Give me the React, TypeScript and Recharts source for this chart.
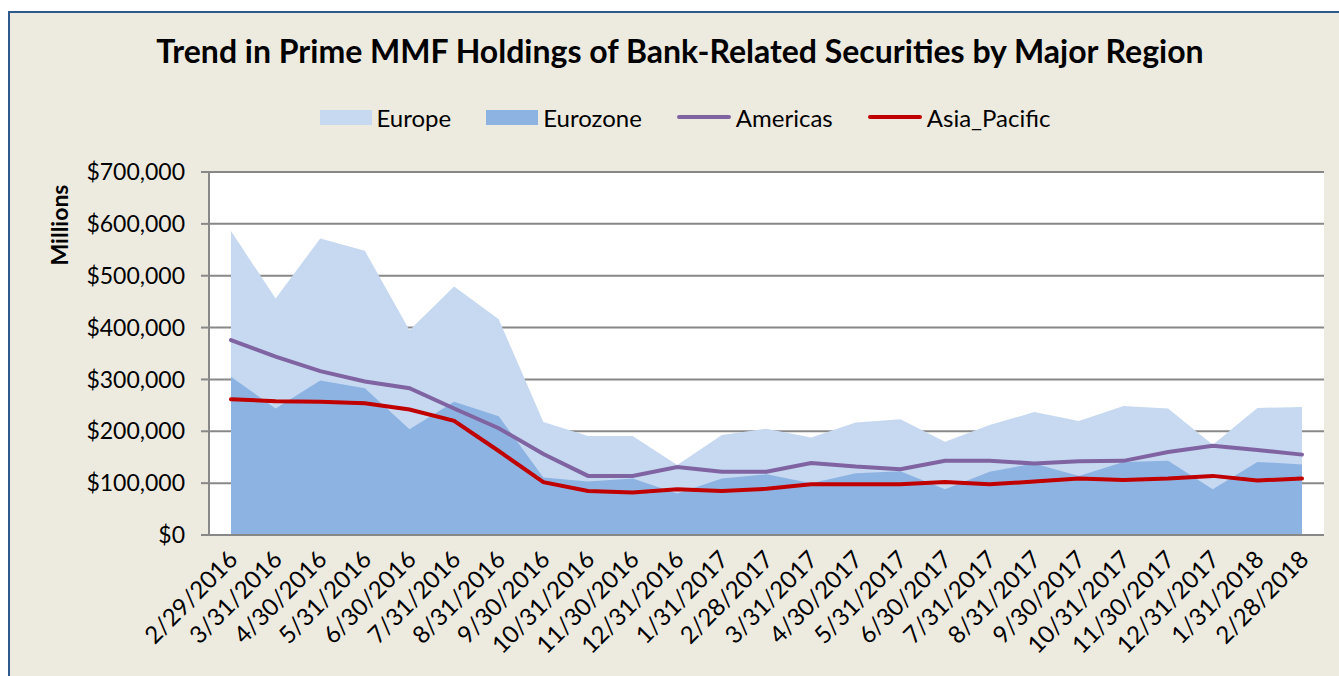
import { ComposedChart, Area, Line, XAxis, YAxis, CartesianGrid, Legend } from 'recharts'

// month-end dates on the category axis
const dates = [
  '2/29/2016', '3/31/2016', '4/30/2016', '5/31/2016', '6/30/2016', '7/31/2016', '8/31/2016',
  '9/30/2016', '10/31/2016', '11/30/2016', '12/31/2016', '1/31/2017', '2/28/2017', '3/31/2017',
  '4/30/2017', '5/31/2017', '6/30/2017', '7/31/2017', '8/31/2017', '9/30/2017', '10/31/2017',
  '11/30/2017', '12/31/2017', '1/31/2018', '2/28/2018',
]

// holdings in $ thousands of millions
const europe = [586, 456, 572, 548, 395, 479, 416, 218, 191, 191, 135, 193, 205, 188, 217, 223, 180, 212, 237, 220, 249, 244, 174, 245, 247]
const eurozone = [305, 244, 298, 283, 204, 257, 229, 111, 103, 109, 80, 109, 117, 100, 119, 123, 88, 122, 138, 114, 141, 143, 88, 141, 136]
const americas = [376, 344, 316, 296, 283, 244, 206, 156, 114, 114, 131, 122, 122, 139, 132, 127, 143, 143, 138, 142, 143, 160, 172, 164, 155]
const asiaPacific = [262, 258, 257, 254, 242, 220, 162, 102, 85, 82, 88, 85, 89, 98, 98, 98, 102, 98, 103, 109, 106, 109, 114, 105, 109]

const yTicks = [0, 100000, 200000, 300000, 400000, 500000, 600000, 700000]
const legendOrder = ['Europe', 'Eurozone', 'Americas', 'Asia_Pacific']

const data = dates.map((d, i) => ({
  date: d,
  Europe: europe[i] * 1000,
  Eurozone: eurozone[i] * 1000,
  Americas: americas[i] * 1000,
  Asia_Pacific: asiaPacific[i] * 1000,
}))

const FONT = 'Lato, "Open Sans", sans-serif'
const GRID = '#888888'
const COLORS: Record<string, string> = {
  Europe: '#C6D9F1',
  Eurozone: '#8DB3E2',
  Americas: '#8064A2',
  Asia_Pacific: '#C00000',
}

function XTick(props: any) {
  const { x, y, payload } = props
  return (
    <g transform={`translate(${x + 8},${y + 18})`}>
      <text textAnchor="end" transform="rotate(-45)" fontSize={24} fontFamily={FONT} fill="#000">
        {payload.value}
      </text>
    </g>
  )
}

function LegendRow(props: any) {
  const items = [...(props.payload || [])].sort(
    (a: any, b: any) => legendOrder.indexOf(a.value) - legendOrder.indexOf(b.value),
  )
  return (
    <div style={{ display: 'flex', justifyContent: 'center', alignItems: 'center', height: 30, fontFamily: FONT, fontSize: 24, color: '#000' }}>
      {items.map((it: any, i: number) => {
        const c = COLORS[it.value] || it.color
        return (
          <div key={it.value} style={{ display: 'flex', alignItems: 'center', marginLeft: i === 0 ? 0 : 35 }}>
            {it.type === 'rect' ? (
              <span style={{ width: 52, height: 15, background: c, display: 'inline-block' }} />
            ) : (
              <span style={{ width: 54, height: 4, background: c, borderRadius: 2, display: 'inline-block' }} />
            )}
            <span style={{ marginLeft: 5 }}>{it.value}</span>
          </div>
        )
      })}
    </div>
  )
}

export default function App() {
  return (
    <div style={{ position: 'relative', width: 1339, height: 676, background: '#fff' }}>
      <style>{'body{margin:0;overflow:hidden}'}</style>
      <div
        style={{
          position: 'absolute',
          left: 8,
          top: 11,
          width: 1331,
          height: 665,
          boxSizing: 'border-box',
          background: '#EDEBE0',
          borderLeft: '2px solid #2F5A8C',
          borderTop: '2px solid #2F5A8C',
        }}
      >
        <ComposedChart width={1329} height={663} data={data} margin={{ top: 159, right: 15, bottom: 21, left: 0 }}>
          <CartesianGrid vertical={false} stroke={GRID} strokeWidth={2} fill="#fff" />
          <XAxis
            dataKey="date"
            interval={0}
            padding={{ left: 22, right: 22 }}
            tickLine={false}
            axisLine={{ stroke: GRID, strokeWidth: 2 }}
            height={120}
            tick={<XTick />}
          />
          <YAxis
            domain={[0, 700000]}
            ticks={yTicks}
            width={199}
            tickSize={8}
            tickMargin={16}
            axisLine={{ stroke: GRID, strokeWidth: 2 }}
            tickLine={{ stroke: GRID, strokeWidth: 2 }}
            tick={{ fontSize: 23, fontFamily: FONT, fill: '#000' }}
            tickFormatter={(v: number) => `$${v.toLocaleString('en-US')}`}
          />
          <Legend
            verticalAlign="middle"
            align="center"
            wrapperStyle={{ top: 89, left: 175, width: 1000 }}
            content={<LegendRow />}
          />
          <Area type="linear" dataKey="Europe" stroke="none" fill={COLORS.Europe} fillOpacity={1} legendType="rect" dot={false} activeDot={false} isAnimationActive={false} />
          <Area type="linear" dataKey="Eurozone" stroke="none" fill={COLORS.Eurozone} fillOpacity={1} legendType="rect" dot={false} activeDot={false} isAnimationActive={false} />
          <Line type="linear" dataKey="Americas" stroke={COLORS.Americas} strokeWidth={4} strokeLinecap="round" dot={false} activeDot={false} legendType="line" isAnimationActive={false} />
          <Line type="linear" dataKey="Asia_Pacific" stroke={COLORS.Asia_Pacific} strokeWidth={4} strokeLinecap="round" dot={false} activeDot={false} legendType="line" isAnimationActive={false} />
        </ComposedChart>
      </div>
      <svg width={1339} height={676} style={{ position: 'absolute', left: 0, top: 0, pointerEvents: 'none' }}>
        <text x={680} y={63} textAnchor="middle" fontFamily={FONT} fontWeight={700} fontSize={32} fill="#000">
          Trend in Prime MMF Holdings of Bank-Related Securities by Major Region
        </text>
        <text x={68} y={225} textAnchor="middle" transform="rotate(-90, 68, 225)" fontFamily={FONT} fontWeight={700} fontSize={23} fill="#000">
          Millions
        </text>
      </svg>
    </div>
  )
}
